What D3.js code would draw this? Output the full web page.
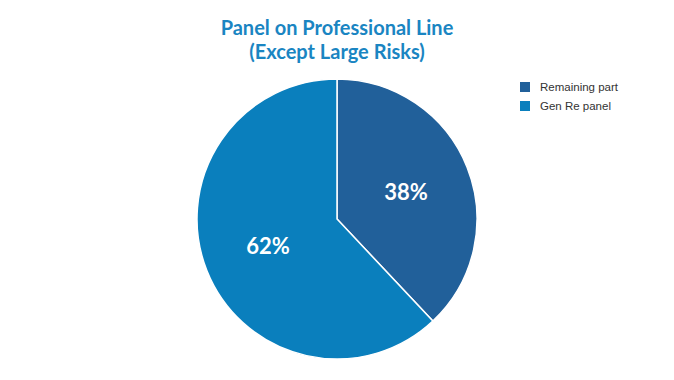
<!DOCTYPE html>
<html><head><meta charset="utf-8">
<script src="https://cdn.jsdelivr.net/npm/d3@7/dist/d3.min.js"></script>
<style>html,body{margin:0;padding:0;background:#fff;}</style>
</head><body>
<svg id="chart" width="674" height="380"></svg>
<script>
const title = ["Panel on Professional Line", "(Except Large Risks)"];
const categories = ["Remaining part", "Gen Re panel"];
const values = [38, 62];
const colors = ["#21609a", "#0a7fbd"];

const svg = d3.select("#chart");
const cx = 337, cy = 219, r = 140;

svg.append("text").attr("x", 337).attr("y", 35).attr("text-anchor", "middle")
  .attr("font-family", "Lato").attr("font-weight", "bold").attr("font-size", 20)
  .attr("fill", "#1a85c2")
  .selectAll("tspan").data(title).join("tspan")
  .attr("x", 337).attr("dy", (d, i) => i ? 24 : 0).text(d => d);

const pie = d3.pie().sort(null).value(d => d);
const arcs = pie(values);
const arc = d3.arc().innerRadius(0).outerRadius(r);
const labelArc = d3.arc().innerRadius(r * 0.53).outerRadius(r * 0.53);
const g = svg.append("g").attr("transform", `translate(${cx},${cy})`);
g.selectAll("path").data(arcs).join("path")
  .attr("d", arc).attr("fill", (d, i) => colors[i])
  .attr("stroke", "#fff").attr("stroke-width", 1.5);
g.selectAll("text").data(arcs).join("text")
  .attr("transform", d => `translate(${labelArc.centroid(d)})`)
  .attr("text-anchor", "middle").attr("dy", "0.36em")
  .attr("font-family", "Lato").attr("font-weight", "bold").attr("font-size", 22)
  .attr("fill", "#fff").text(d => d.data + "%");

const lg = svg.append("g").attr("transform", "translate(520,82)");
const items = lg.selectAll("g").data(categories).join("g")
  .attr("transform", (d, i) => `translate(0,${i * 19})`);
items.append("rect").attr("width", 10).attr("height", 10).attr("fill", (d, i) => colors[i]);
items.append("text").attr("x", 20).attr("y", 9).attr("font-family", "Liberation Sans, Arial, sans-serif")
  .attr("font-size", 11.5).attr("fill", "#333").text(d => d);
</script>
</body></html>
